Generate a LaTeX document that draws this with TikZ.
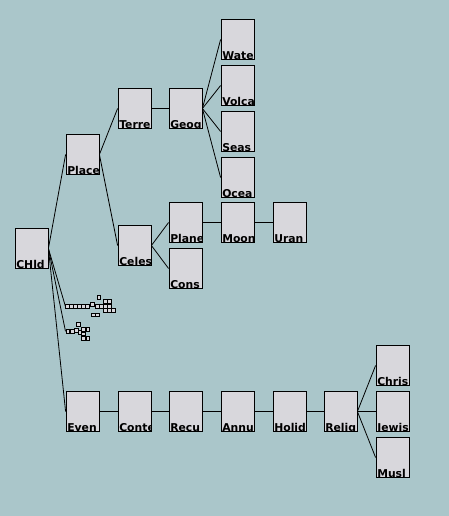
\documentclass[tikz,border=0pt]{standalone}
\usepackage{fontspec}
\newfontfamily\topicfont{DejaVu Sans}
\usetikzlibrary{positioning}

\definecolor{bgblue}{RGB}{170,198,202}
\definecolor{boxgrey}{RGB}{216,215,220}

\tikzset{
  topic/.style={draw, fill=boxgrey, line width=0.8pt, minimum width=33pt,
    minimum height=39.5pt, inner sep=0pt},
  caption/.style={anchor=base west, inner sep=0pt,
    font=\topicfont\bfseries\fontsize{10.8}{10.8}\selectfont},
  tiny/.style={draw, fill=boxgrey, line width=0.6pt, minimum size=3.8pt, inner sep=0pt},
  link/.style={line width=0.8pt}
}

\begin{document}
\begin{tikzpicture}[x=1pt, y=-1pt]
\fill[bgblue] (0,0) rectangle (449,516);

% topic boxes: name/x/y/label
\foreach \n/\x/\y/\t in {
  child/31.5/248.5/CHld, place/82.5/154.5/Place,
  terre/134.5/108.5/Terre, geog/185.5/108.5/Geog,
  water/237.5/39.5/Wate, volca/237.5/85.5/Volca, seas/237.5/131.5/Seas,
  ocea/237.5/177.5/Ocea,
  celes/134.5/245.5/Celes, plane/185.5/222.5/Plane, cons/185.5/268.5/Cons,
  moon/237.5/222.5/Moon, uran/289.5/222.5/Uran,
  even/82.5/411.5/Even, conte/134.5/411.5/Conte, recu/185.5/411.5/Recu,
  annu/237.5/411.5/Annu, holid/289.5/411.5/Holid, relig/340.5/411.5/Relig,
  chris/392.5/365.5/Chris, jewis/392.5/411.5/Jewis, musl/392.5/457.5/Musl}
{
  \node[topic] (\n) at (\x,\y) {};
  \begin{scope}
    \clip (\n.south west) rectangle (\n.north east);
    \node[caption] (\n-t) at ([xshift=1.5pt,yshift=0.4pt]\n.south west) {\t};
  \end{scope}
}

% collapsed branches
\foreach \i/\x/\y in {1/67.5/306, 2/71.5/306, 3/75.5/306, 4/79.5/306, 5/83.5/306,
  6/87.5/306, 7/92.5/304, 8/98.8/297, 9/97.2/306, 10/101.5/306, 11/105/301,
  12/109/301, 13/105/306, 14/109/306, 15/105/310.3, 16/109/310.3, 17/113.5/310.3,
  18/93.2/314.7, 19/97.2/314.7}
  \node[tiny] (a\i) at (\x,\y) {};
\foreach \i/\x/\y in {1/67.7/331.3, 2/71.9/331.3, 3/76/330.5, 4/78/324.2,
  5/80.3/332.5, 6/83.5/329.3, 7/87.7/329.3, 8/83.5/333.7, 9/83.5/338, 10/87.7/338}
  \node[tiny] (b\i) at (\x,\y) {};

\foreach \a/\b in {child/place, child/a1, child/b1, child/even,
  place/terre, place/celes, terre/geog,
  geog/water, geog/volca, geog/seas, geog/ocea,
  celes/plane, celes/cons, plane/moon, moon/uran,
  even/conte, conte/recu, recu/annu, annu/holid, holid/relig,
  relig/chris, relig/jewis, relig/musl}
  \draw[link] (\a.east) -- (\b.west);
\end{tikzpicture}
\end{document}
